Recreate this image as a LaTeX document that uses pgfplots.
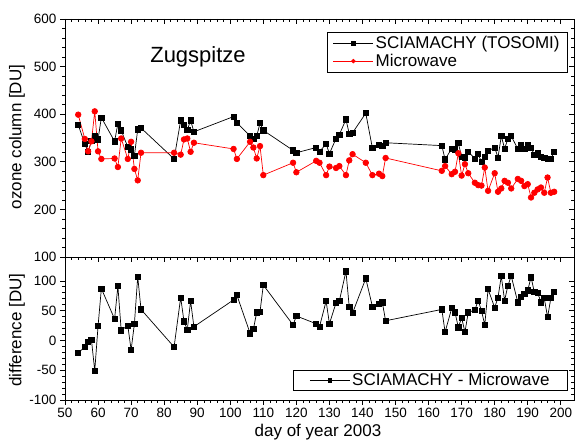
\documentclass[border=0pt]{standalone}
\usepackage{fontspec}
\setmainfont{Liberation Sans}
\usepackage{pgfplots}
\usepackage{pgfplotstable}
\pgfplotsset{compat=1.18}

\pgfplotstableread{
day scia mw diff
54 378 399 -21
56 337 348 -11
57 321 322 -3
58 344 343 1
59 355 406 -51
60 347 322 24
61 393 306 87
65 343 307 36
66 380 289 91
67 366 349 17
69 331 306 25
70 326 342 -16
71 313 285 28
72 368 261 107
73 371 319 52
83 306 319 -11
85 387 315 72
86 378 347 32
87 367 349 18
88 387 321 66
89 363 340 23
101 395 327 68
102 382 306 76
106 354 342 12
107 349 330 19
108 354 307 47
109 381 333 48
110 366 272 93
119 324 298 26
120 319 278 41
126 330 302 28
127 321 298 23
129 338 272 66
130 317 290 28
132 349 287 63
133 357 291 66
135 389 272 116
136 359 303 56
137 361 316 46
141 402 298 104
143 329 272 57
145 336 275 62
146 334 270 64
147 340 308 33
164 334 281 52
165 305 291 14
167 328 274 54
168 326 279 47
169 339 318 22
170 311 271 38
171 309 295 14
172 321 276 47
174 307 256 51
175 316 251 67
176 300 250 50
177 311 288 26
178 323 239 86
180 330 276 55
181 309 237 72
182 354 244 108
183 328 260 67
184 348 256 92
185 354 244 108
187 327 264 64
188 335 260 73
189 327 249 78
190 335 253 84
191 330 225 106
192 314 235 81
193 319 242 80
194 311 246 64
195 309 235 71
196 306 267 39
197 306 235 71
198 321 237 82
}\data

\pgfplotsset{
  base/.style={
    scale only axis, width=509pt, xmin=50, xmax=204,
    xtick={50,60,...,200}, minor x tick num=4, minor y tick num=4,
    /pgf/number format/assume math mode=true,
    tick label style={font=\fontsize{13.5}{15}\selectfont},
    major tick length=5pt, minor tick length=3pt,
    axis line style={line width=0.8pt},
    every tick/.style={black, line width=0.6pt},
    legend style={draw=black, line width=0.6pt, font=\fontsize{17}{19.5}\selectfont, cells={anchor=west}},
    legend image code/.code={\draw[mark repeat=2,mark phase=2,mark size=1.8pt] plot coordinates {(0pt,0pt) (20pt,0pt) (40pt,0pt)};},
  },
  inner/.style={base, xtick pos=right, ytick pos=right, tick align=inside, xticklabels={}, yticklabels={}},
  outer/.style={base, xtick pos=left, ytick pos=left, tick align=outside},
  top/.style={at={(65pt,184pt)}, anchor=south west, height=238pt, ymin=100, ymax=600, ytick={100,200,...,600}},
  bot/.style={at={(65pt,41pt)}, anchor=south west, height=143pt, ymin=-100, ymax=140, ytick={-100,-50,0,50,100}},
}

\begin{document}
\begin{tikzpicture}[x=1pt,y=1pt]
\path[use as bounding box] (0,0) rectangle (580,441);

\begin{axis}[inner, top]
\end{axis}
\begin{axis}[outer, top, xticklabels={},
  legend style={at={(0.988,0.945)}, anchor=north east, inner xsep=6pt, inner ysep=2pt}]
\addplot[black, line width=0.7pt, mark=square*, mark size=2.6pt] table[x=day,y=scia]{\data};
\addlegendentry{SCIAMACHY (TOSOMI)}
\addplot[red, line width=0.7pt, mark=*, mark size=2.8pt] table[x=day,y=mw]{\data};
\addlegendentry{Microwave}
\end{axis}

\begin{axis}[inner, bot]
\end{axis}
\begin{axis}[outer, bot,
  legend style={at={(0.988,0.21)}, anchor=north east, inner xsep=16pt, inner ysep=1pt}]
\addplot[black, line width=0.7pt, mark=square*, mark size=2.6pt] table[x=day,y=diff]{\data};
\addlegendentry{SCIAMACHY - Microwave}
\end{axis}

\node[font=\fontsize{22}{24}\selectfont] at (198,384) {Zugspitze};
\node[font=\fontsize{17}{19}\selectfont] at (318,9) {day of year 2003};
\node[font=\fontsize{17}{19}\selectfont, rotate=90] at (17,304) {ozone column [DU]};
\node[font=\fontsize{17}{19}\selectfont, rotate=90] at (17,111) {difference [DU]};
\end{tikzpicture}
\end{document}
